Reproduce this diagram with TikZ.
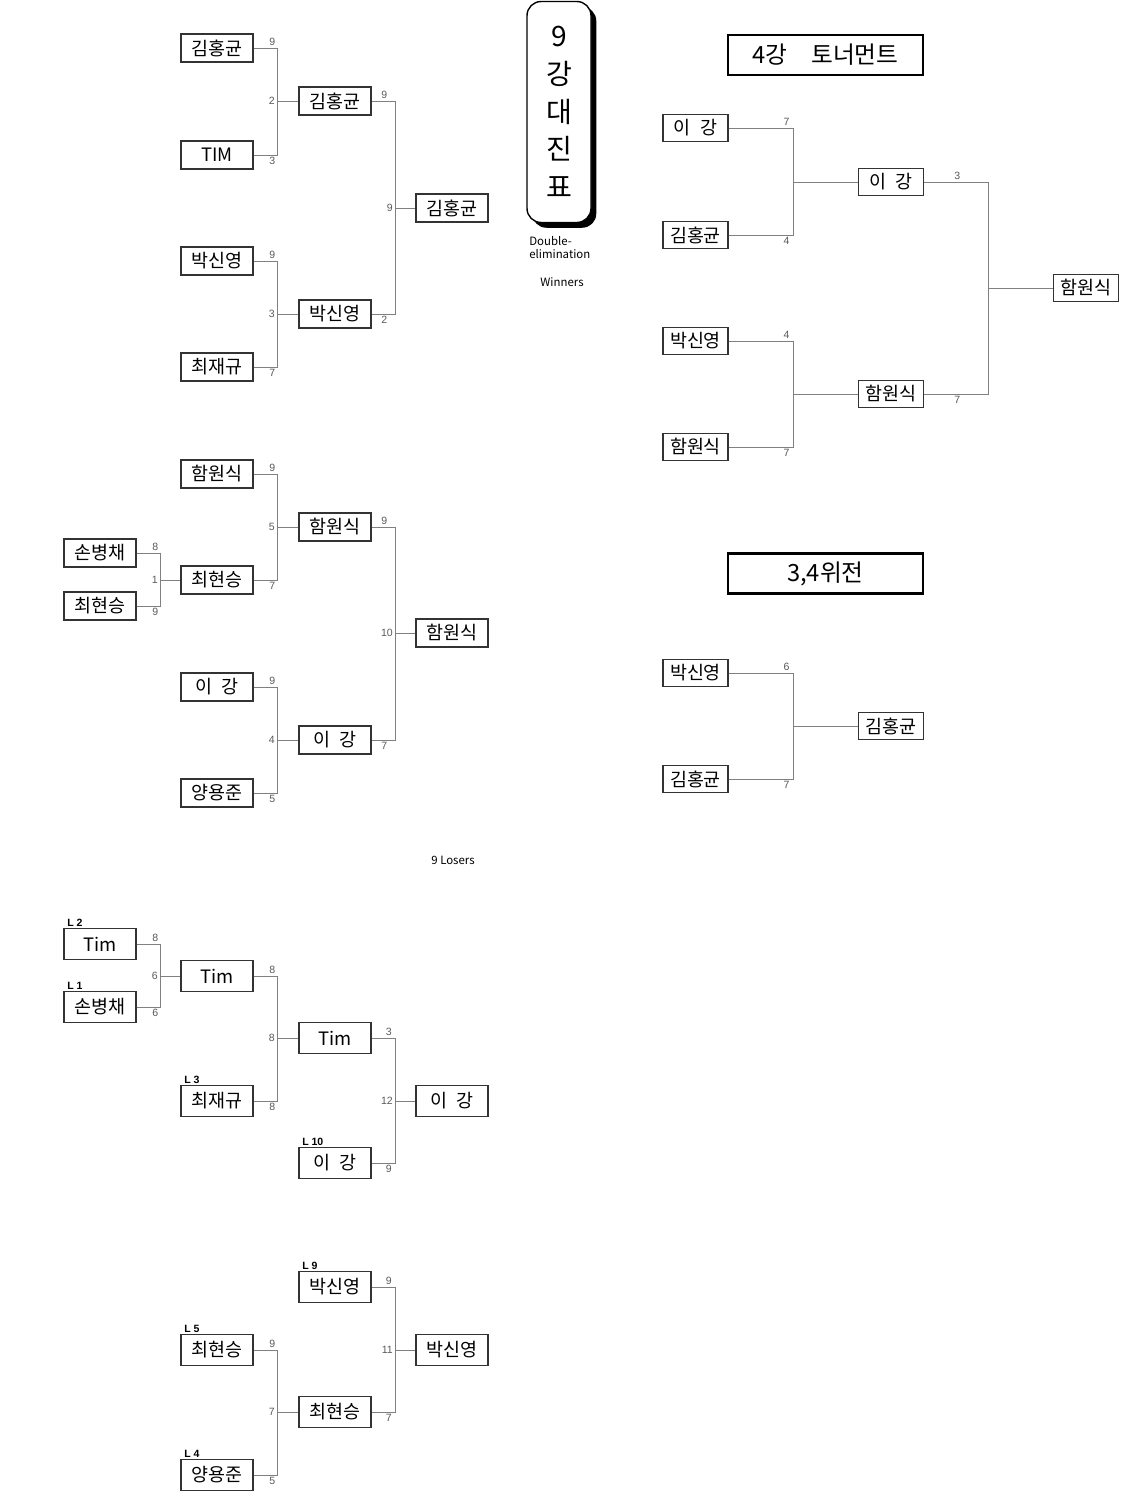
\documentclass[tikz,border=0pt]{standalone}
\usepackage{fontspec}
\setmainfont{Noto Sans CJK KR}
\newfontfamily\scorefont{Liberation Sans}
\usetikzlibrary{shadows}

\begin{document}
\begin{tikzpicture}[x=0.02cm, y=-0.02cm,
  player/.style={draw=black!80, line width=0.7pt, minimum width=1.44cm, minimum height=0.56cm, inner sep=0pt, font=\fontsize{10.5}{12}\selectfont},
  semi/.style={player, minimum width=1.3cm, minimum height=0.54cm},
  loser/.style={player, minimum height=0.62cm},
  conn/.style={draw=black!50, line width=0.5pt},
  score/.style={font=\scorefont\fontsize{6}{7}\selectfont, text=black!65, inner sep=1pt},
  lmark/.style={font=\scorefont\bfseries\fontsize{6}{7}\selectfont, inner sep=0.5pt, anchor=south west, xshift=1.5pt},
  titlebox/.style={draw, line width=1.4pt, minimum width=3.9cm, minimum height=0.8cm, font=\fontsize{13.5}{15}\selectfont},
  note/.style={font=\fontsize{6.5}{7.4}\selectfont, inner sep=0pt}
]
  \useasboundingbox (0,0) rectangle (1120,1491);

  % ----- Titre -----
  \node[draw, line width=0.8pt, rounded corners=8pt, fill=white,
        general shadow={fill=black, shadow xshift=3pt, shadow yshift=-3pt},
        minimum width=1.28cm, minimum height=4.42cm, align=center,
        font=\fontsize{16}{21.5}\selectfont] (title) at (559,112) {9\\강\\대\\진\\표};
  \node[note, align=left, anchor=north west] (dbl) at (529,236) {Double-\\elimination};
  \node[note] (win) at (562,282) {Winners};
  \node[note] (los) at (453,860) {9 Losers};

  % ----- Winners : groupe A -----
  \node[player] (a1) at (217,48) {김홍균};
  \node[player] (a2) at (217,155) {TIM};
  \node[player] (a3) at (217,261) {박신영};
  \node[player] (a4) at (217,367) {최재규};
  \node[player] (ab1) at (335,101) {김홍균};
  \node[player] (ab2) at (335,314) {박신영};
  \node[player] (ac1) at (452,208) {김홍균};
  \coordinate (ja1) at (277,101);
  \coordinate (ja2) at (277,314);
  \coordinate (ja3) at (395,208);

  \draw[conn] (a1.east) -| node[score,above,pos=0.4] {9} (ja1);
  \draw[conn] (a2.east) -| node[score,below,pos=0.4] {3} (ja1);
  \draw[conn] (ja1) -- node[score,left,pos=0] {2} (ab1.west);
  \draw[conn] (a3.east) -| node[score,above,pos=0.4] {9} (ja2);
  \draw[conn] (a4.east) -| node[score,below,pos=0.4] {7} (ja2);
  \draw[conn] (ja2) -- node[score,left,pos=0] {3} (ab2.west);
  \draw[conn] (ab1.east) -| node[score,above,pos=0.27] {9} (ja3);
  \draw[conn] (ab2.east) -| node[score,below,pos=0.27] {2} (ja3);
  \draw[conn] (ja3) -- node[score,left,pos=0] {9} (ac1.west);

  % ----- Winners : groupe B -----
  \node[player] (b0a) at (100,553) {손병채};
  \node[player] (b0b) at (100,606) {최현승};
  \node[player] (b1) at (217,474) {함원식};
  \node[player] (b2) at (217,580) {최현승};
  \node[player] (b3) at (217,687) {이\enspace 강};
  \node[player] (b4) at (217,793) {양용준};
  \node[player] (bb1) at (335,527) {함원식};
  \node[player] (bb2) at (335,740) {이\enspace 강};
  \node[player] (bc1) at (452,633) {함원식};
  \coordinate (jb0) at (160,580);
  \coordinate (jb1) at (277,527);
  \coordinate (jb2) at (277,740);
  \coordinate (jb3) at (395,633);

  \draw[conn] (b0a.east) -| node[score,above,pos=0.4] {8} (jb0);
  \draw[conn] (b0b.east) -| node[score,below,pos=0.4] {9} (jb0);
  \draw[conn] (jb0) -- node[score,left,pos=0] {1} (b2.west);
  \draw[conn] (b1.east) -| node[score,above,pos=0.4] {9} (jb1);
  \draw[conn] (b2.east) -| node[score,below,pos=0.4] {7} (jb1);
  \draw[conn] (jb1) -- node[score,left,pos=0] {5} (bb1.west);
  \draw[conn] (b3.east) -| node[score,above,pos=0.4] {9} (jb2);
  \draw[conn] (b4.east) -| node[score,below,pos=0.4] {5} (jb2);
  \draw[conn] (jb2) -- node[score,left,pos=0] {4} (bb2.west);
  \draw[conn] (bb1.east) -| node[score,above,pos=0.27] {9} (jb3);
  \draw[conn] (bb2.east) -| node[score,below,pos=0.27] {7} (jb3);
  \draw[conn] (jb3) -- node[score,left,pos=0] {10} (bc1.west);

  % ----- 4강 토너먼트 -----
  \node[titlebox] (t4) at (825.5,55) {4강\quad 토너먼트};
  \node[semi] (s1) at (695.5,128) {이\enspace 강};
  \node[semi] (s2) at (695.5,235) {김홍균};
  \node[semi] (s3) at (695.5,341) {박신영};
  \node[semi] (s4) at (695.5,447) {함원식};
  \node[semi] (sb1) at (891,182) {이\enspace 강};
  \node[semi] (sb2) at (891,394) {함원식};
  \node[semi] (champ) at (1086,288) {함원식};
  \coordinate (js1) at (793,182);
  \coordinate (js2) at (793,394);
  \coordinate (js3) at (988,288);

  \draw[conn] (s1.east) -| node[score,above,pos=0.45] {7} (js1);
  \draw[conn] (s2.east) -| node[score,below,pos=0.45] {4} (js1);
  \draw[conn] (js1) -- (sb1.west);
  \draw[conn] (s3.east) -| node[score,above,pos=0.45] {4} (js2);
  \draw[conn] (s4.east) -| node[score,below,pos=0.45] {7} (js2);
  \draw[conn] (js2) -- (sb2.west);
  \draw[conn] (sb1.east) -| node[score,above,pos=0.26] {3} (js3);
  \draw[conn] (sb2.east) -| node[score,below,pos=0.26] {7} (js3);
  \draw[conn] (js3) -- (champ.west);

  % ----- 3,4위전 -----
  \node[titlebox] (t34) at (825.5,573.5) {3,4위전};
  \node[semi] (p1) at (695.5,673) {박신영};
  \node[semi] (p2) at (695.5,779) {김홍균};
  \node[semi] (third) at (891,726) {김홍균};
  \coordinate (jp) at (793,726);

  \draw[conn] (p1.east) -| node[score,above,pos=0.45] {6} (jp);
  \draw[conn] (p2.east) -| node[score,below,pos=0.45] {7} (jp);
  \draw[conn] (jp) -- (third.west);

  % ----- Losers : groupe 1 -----
  \node[loser, label={[lmark]north west:L 2}] (la1) at (100,944) {Tim};
  \node[loser, label={[lmark]north west:L 1}] (la2) at (100,1007) {손병채};
  \node[loser] (lb1) at (217,976) {Tim};
  \node[loser, label={[lmark]north west:L 3}] (lb2) at (217,1101) {최재규};
  \node[loser] (lc1) at (335,1038) {Tim};
  \node[loser, label={[lmark]north west:L 10}] (lc2) at (335,1163) {이\enspace 강};
  \node[loser] (ld1) at (452,1101) {이\enspace 강};
  \coordinate (jl1) at (160,976);
  \coordinate (jl2) at (277,1038);
  \coordinate (jl3) at (395,1101);

  \draw[conn] (la1.east) -| node[score,above,pos=0.4] {8} (jl1);
  \draw[conn] (la2.east) -| node[score,below,pos=0.4] {6} (jl1);
  \draw[conn] (jl1) -- node[score,left,pos=0] {6} (lb1.west);
  \draw[conn] (lb1.east) -| node[score,above,pos=0.4] {8} (jl2);
  \draw[conn] (lb2.east) -| node[score,below,pos=0.4] {8} (jl2);
  \draw[conn] (jl2) -- node[score,left,pos=0] {8} (lc1.west);
  \draw[conn] (lc1.east) -| node[score,above,pos=0.37] {3} (jl3);
  \draw[conn] (lc2.east) -| node[score,below,pos=0.37] {9} (jl3);
  \draw[conn] (jl3) -- node[score,left,pos=0] {12} (ld1.west);

  % ----- Losers : groupe 2 -----
  \node[loser, label={[lmark]north west:L 9}] (le1) at (335,1287) {박신영};
  \node[loser, label={[lmark]north west:L 5}] (le2) at (217,1350) {최현승};
  \node[loser, label={[lmark]north west:L 4}] (le3) at (217,1475) {양용준};
  \node[loser] (lf1) at (335,1412) {최현승};
  \node[loser] (lg1) at (452,1350) {박신영};
  \coordinate (jm1) at (277,1412);
  \coordinate (jm2) at (395,1350);

  \draw[conn] (le2.east) -| node[score,above,pos=0.4] {9} (jm1);
  \draw[conn] (le3.east) -| node[score,below,pos=0.4] {5} (jm1);
  \draw[conn] (jm1) -- node[score,left,pos=0] {7} (lf1.west);
  \draw[conn] (le1.east) -| node[score,above,pos=0.37] {9} (jm2);
  \draw[conn] (lf1.east) -| node[score,below,pos=0.37] {7} (jm2);
  \draw[conn] (jm2) -- node[score,left,pos=0] {11} (lg1.west);
\end{tikzpicture}
\end{document}
